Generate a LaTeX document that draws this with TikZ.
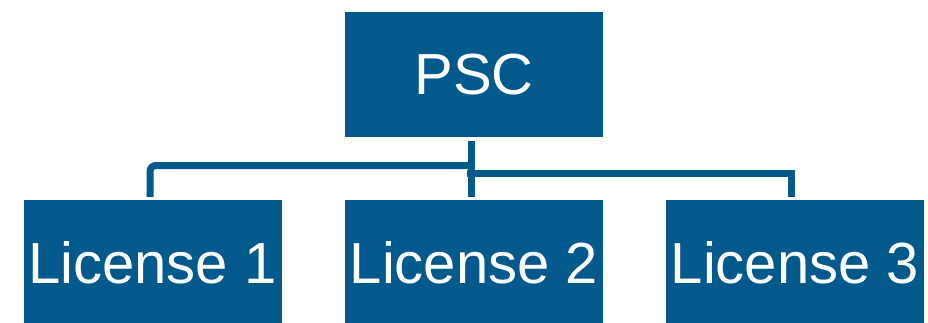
\documentclass[tikz,border=0pt]{standalone}
\usepackage{fontspec}
\setmainfont{Liberation Sans}
\definecolor{pscblue}{RGB}{2,89,139}

\begin{document}
\begin{tikzpicture}[
        x=1pt, y=-1pt,
        unit/.style={fill=pscblue, text=white, rectangle, inner sep=0pt,
            minimum width=258pt, minimum height=125pt,
            font=\fontsize{58}{60}\selectfont},
        link/.style={draw=pscblue, line width=7pt}
    ]
    \clip (0,0) rectangle (928,322);
    \node[unit] (psc) at (474,74.5) {PSC};
    \node[unit] (lic1) at (152.5,262.5) {License 1};
    \node[unit] (lic2) at (474,262.5) {License 2};
    \node[unit] (lic3) at (795,262.5) {License 3};
    % connectors
    \coordinate (trunk) at ([xshift=-3pt,yshift=-4pt]psc.south);
    \draw[link] (trunk) -- ([xshift=-3pt,yshift=3pt]lic2.north);
    \draw[link, rounded corners=6pt] (471,165.5) -| ([xshift=-2.5pt,yshift=3pt]lic1.north);
    \draw[link] (467,173) -| ([xshift=-4pt,yshift=3pt]lic3.north);
\end{tikzpicture}
\end{document}
